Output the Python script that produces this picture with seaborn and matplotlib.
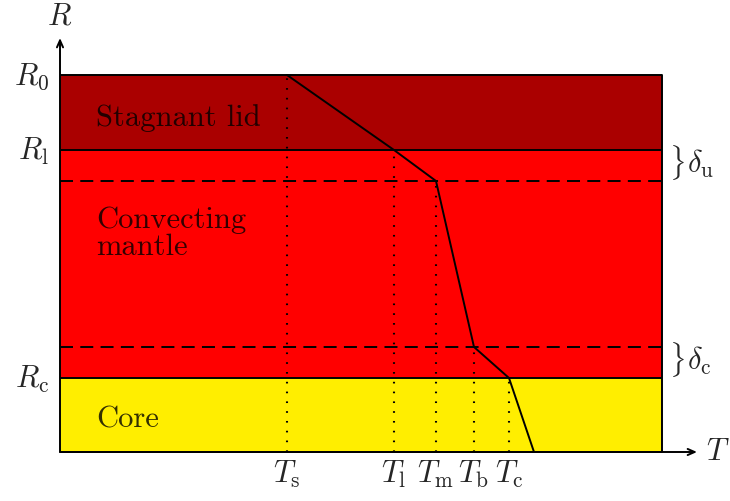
import matplotlib
matplotlib.use("Agg")
import matplotlib.pyplot as plt
import seaborn as sns
import pandas as pd

# Radii of the interfaces (schematic units, centre of planet at bottom = 0)
R_bottom = 0
R_c = 74        # core-mantle boundary
R_cbl = 105     # top of lower thermal boundary layer
R_ubl = 271     # bottom of upper thermal boundary layer
R_l = 302       # base of stagnant lid
R_0 = 377       # planetary surface
R_axis_top = 414

# Temperatures at those interfaces (schematic units)
T_s = 227
T_l = 334
T_m = 376
T_b = 414
T_c = 449
T_centre = 474
T_box_right = 602
T_axis_end = 637

profile_T = [T_s, T_l, T_m, T_b, T_c, T_centre]
profile_R = [R_0, R_l, R_ubl, R_cbl, R_c, R_bottom]

temp_labels = [r"$T_\mathrm{s}$", r"$T_\mathrm{l}$", r"$T_\mathrm{m}$",
               r"$T_\mathrm{b}$", r"$T_\mathrm{c}$"]
temp_marks = [T_s, T_l, T_m, T_b, T_c]
temp_mark_R = [R_0, R_l, R_ubl, R_cbl, R_c]

radius_labels = [r"$R_0$", r"$R_\mathrm{l}$", r"$R_\mathrm{c}$"]
radius_marks = [R_0, R_l, R_c]

layer_names = ["Stagnant lid", "Convecting\nmantle", "Core"]
layer_bounds = [(R_l, R_0), (R_c, R_l), (R_bottom, R_c)]
layer_colors = ["#AA0000", "#FF0000", "#FFEE00"]

sns.set_style("white")
plt.rcParams["mathtext.fontset"] = "cm"
plt.rcParams["font.family"] = ["cmr10", "DejaVu Serif"]
plt.rcParams["axes.unicode_minus"] = False

fig = plt.figure(figsize=(7.30, 5.01), dpi=100)
ax = fig.add_axes([0, 0, 1, 1])
ax.set_xlim(-60, 670)
ax.set_ylim(-49, 452)
ax.axis("off")

LW = 1.4
MATH = 22
TXT = (0, 0, 0, 0.8)

# Coloured layers
for (lo, hi), col in zip(layer_bounds, layer_colors):
    ax.fill_between([0, T_box_right], lo, hi, color=col, lw=0, zorder=1)

# Layer outlines
for r in [R_bottom, R_c, R_l, R_0]:
    ax.plot([0, T_box_right], [r, r], color="black", lw=LW, zorder=3,
            solid_capstyle="butt")
ax.plot([T_box_right, T_box_right], [R_bottom, R_0], color="black", lw=LW, zorder=3)

# Boundary layer limits
for r in [R_ubl, R_cbl]:
    ax.plot([0, T_box_right], [r, r], color="black", lw=LW, zorder=3,
            linestyle=(0, (6.68, 3.75)), dash_capstyle="butt")

# Dotted drop lines from the profile to the temperature axis
for t, r in zip(temp_marks, temp_mark_R):
    ax.plot([t, t], [R_bottom, r], color="black", lw=1.5, zorder=3,
            linestyle=(0, (0.8, 3.9)), dash_capstyle="butt")

# Temperature profile
df = pd.DataFrame({"T": profile_T, "R": profile_R})
sns.lineplot(data=df, x="T", y="R", sort=False, estimator=None,
             color="black", lw=LW, ax=ax, zorder=4)

# Axes arrows
arrow = dict(arrowstyle="->,head_length=0.5,head_width=0.22", color="black",
             lw=LW, shrinkA=0, shrinkB=0)
ax.annotate("", xy=(T_axis_end, R_bottom), xytext=(0, R_bottom), arrowprops=arrow, zorder=5)
ax.annotate("", xy=(0, R_axis_top), xytext=(0, R_bottom), arrowprops=arrow, zorder=5)
ax.text(T_axis_end + 9, R_bottom - 8, r"$T$", fontsize=MATH, ha="left", va="baseline")
ax.text(0, R_axis_top + 8, r"$R$", fontsize=MATH, ha="center", va="bottom")

# Tick-like labels
for lab, t in zip(temp_labels, temp_marks):
    ax.text(t, R_bottom - 31, lab, fontsize=MATH, ha="center", va="baseline")
for lab, r in zip(radius_labels, radius_marks):
    ax.text(-11, r - 10, lab, fontsize=MATH, ha="right", va="baseline")

# Boundary layer thickness markers
for (lo, hi), lab in [((R_ubl, R_l), r"$\delta_\mathrm{u}$"),
                      ((R_c, R_cbl), r"$\delta_\mathrm{c}$")]:
    mid = 0.5 * (lo + hi)
    ax.text(T_box_right + 7, mid - 8, r"$\}$", fontsize=MATH - 1, ha="left", va="baseline")
    ax.text(T_box_right + 25, mid - 7, lab, fontsize=MATH, ha="left", va="baseline")

# Layer names
ax.text(36, 326, layer_names[0], fontsize=22, color=TXT, ha="left", va="baseline", zorder=5)
ax.text(36, 224, "Convecting", fontsize=22, color=TXT, ha="left", va="baseline", zorder=5)
ax.text(36, 197, "mantle", fontsize=22, color=TXT, ha="left", va="baseline", zorder=5)
ax.text(36, 25, layer_names[2], fontsize=22, color=TXT, ha="left", va="baseline", zorder=5)

fig.savefig("out.png", dpi=100)
